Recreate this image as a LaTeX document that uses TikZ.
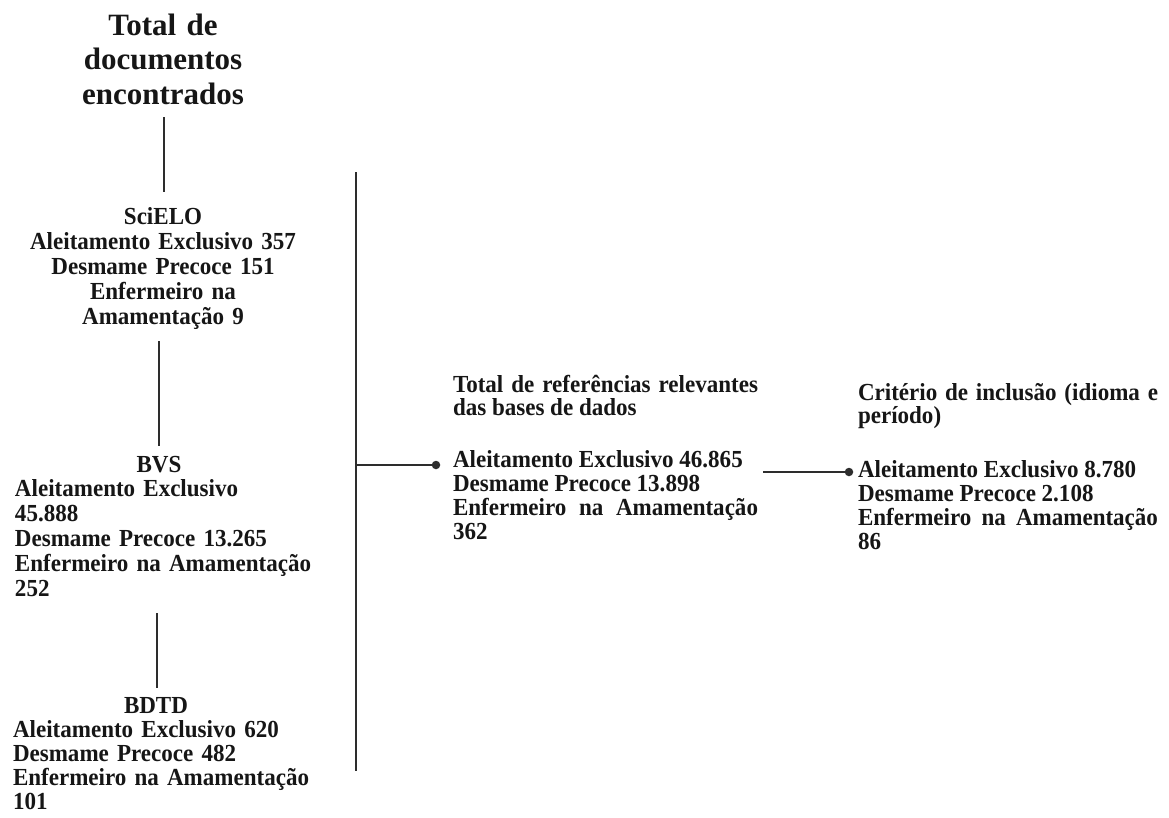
\documentclass[tikz,border=0pt]{standalone}
\usepackage{fontspec}
\setmainfont[FakeStretch=0.94]{Liberation Serif}
\newfontfamily\titlefont{Liberation Serif}
\definecolor{ink}{RGB}{22,22,22}
\definecolor{wire}{RGB}{45,45,45}
\begin{document}
\begin{tikzpicture}[x=1pt,y=-1pt,
  every node/.style={inner sep=0pt, outer sep=0pt, text=ink},
  titlebox/.style={font=\titlefont\bfseries\fontsize{31}{34.5}\selectfont, text width=260pt, align=center, anchor=base},
  centerbox/.style={font=\bfseries\fontsize{24.5}{25}\selectfont, text width=300pt, align=center, anchor=base},
  leftbox/.style={font=\bfseries\fontsize{24.5}{24.8}\selectfont, text width=300pt, align=left, anchor=base west},
  lowbox/.style={font=\bfseries\fontsize{24.5}{24.1}\selectfont, text width=300pt, align=left, anchor=base west},
  justbox/.style={font=\bfseries\fontsize{24.5}{23.8}\selectfont, align=justify, anchor=base west},
  conn/.style={draw=wire, line width=1.8pt},
  dotnode/.style={circle, fill=wire, minimum size=8.5pt}
]
\useasboundingbox[fill=white] (0,0) rectangle (1169,817);

% left column
\node[titlebox] (title) at (163,35) {Total de\\ documentos\\ encontrados};
\node[centerbox] (scielo) at (163,224) {SciELO\\ Aleitamento Exclusivo 357\\ Desmame Precoce 151\\ Enfermeiro na\\ Amamentação 9};
\node[leftbox] (bvs) at (15,472) {\makebox[288pt]{BVS}\\ Aleitamento Exclusivo\\ 45.888\\ Desmame Precoce 13.265\\ Enfermeiro na Amamentação\\ 252};
\node[lowbox] (bdtd) at (13,713) {\makebox[286pt]{BDTD}\\ Aleitamento Exclusivo 620\\ Desmame Precoce 482\\ Enfermeiro na Amamentação\\ 101};

\draw[conn, shorten <=13pt, shorten >=15pt] ([xshift=1pt]title.south) -- ([xshift=1pt]scielo.north);
\draw[conn, shorten <=12pt, shorten >=10pt] ([xshift=-4pt]scielo.south) -- ([xshift=-4pt]scielo.south |- bvs.north);
\draw[conn, shorten <=17pt, shorten >=9pt] ([xshift=-8pt]bvs.south) -- ([xshift=-8pt]bvs.south |- bdtd.north);

% bracket
\coordinate (bartop) at (356,172);
\coordinate (barbot) at (356,771);
\draw[conn] (bartop) -- (barbot);

% middle column
\node[justbox, text width=305pt] (refs) at (453,392) {Total de referências relevantes\linebreak das bases de dados\par\vspace{28pt}Aleitamento Exclusivo 46.865\par Desmame Precoce 13.898\par Enfermeiro na Amamentação\linebreak 362};
\node[dotnode] (dot1) at (436,465) {};
\draw[conn] (dot1.center) -- (dot1 -| bartop);

% right column
\node[justbox, text width=300pt] (crit) at (858,400) {Critério de inclusão (idioma e\linebreak período)\par\vspace{30pt}Aleitamento Exclusivo 8.780\par Desmame Precoce 2.108\par Enfermeiro na Amamentação\linebreak 86};
\node[dotnode] (dot2) at (849,472) {};
\coordinate (h2) at (763,472);
\draw[conn] (h2) -- (dot2.center);
\end{tikzpicture}
\end{document}
